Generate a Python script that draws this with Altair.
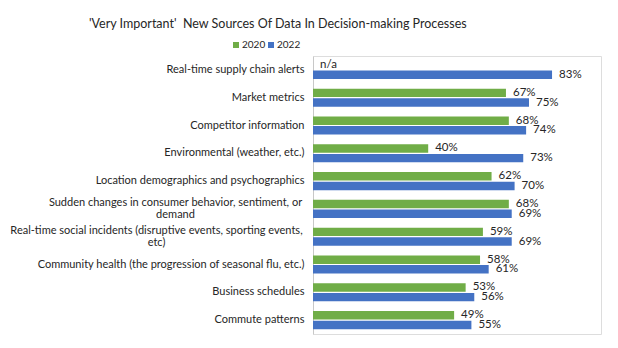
import altair as alt
import pandas as pd

categories = [
    "Real-time supply chain alerts",
    "Market metrics",
    "Competitor information",
    "Environmental (weather, etc.)",
    "Location demographics and psychographics",
    "Sudden changes in consumer behavior, sentiment, or\ndemand",
    "Real-time social incidents (disruptive events, sporting events,\netc)",
    "Community health (the progression of seasonal flu, etc.)",
    "Business schedules",
    "Commute patterns",
]
values_2020 = [None, 67, 68, 40, 62, 68, 59, 58, 53, 49]
values_2022 = [83, 75, 74, 73, 70, 69, 69, 61, 56, 55]
series = ["2020", "2022"]
colors = ["#70AD47", "#4472C4"]

rows = []
for i, c in enumerate(categories):
    for s, vals in zip(series, [values_2020, values_2022]):
        v = vals[i]
        rows.append({
            "cat": c,
            "year": s,
            "value": v,
            "pos": 0 if v is None else v,
            "label": "n/a" if v is None else f"{v}%",
        })
df = pd.DataFrame(rows)

FONT = "Lato"
TXT = "#262626"
MULTI = "indexof(datum.value, '\\n') >= 0"

y = alt.Y("cat:N", sort=categories, title=None,
          scale=alt.Scale(paddingInner=0.35, paddingOuter=0.175),
          axis=alt.Axis(
              labelExpr="split(datum.label, '\\n')",
              labelFont=FONT, labelFontSize=11, labelColor=TXT,
              labelLimit=400, ticks=False, domainColor="#c8c8c8",
              labelAlign={"condition": {"test": MULTI, "value": "center"}, "value": "right"},
              labelOffset={"condition": {"test": MULTI, "value": -6}, "value": 0},
              labelPadding={"condition": [
                  {"test": "indexof(datum.value, 'Sudden') >= 0", "value": 138},
                  {"test": "indexof(datum.value, 'social') >= 0", "value": 157}],
                  "value": 9},
              labelLineHeight=12,
          ))
yoff = alt.YOffset("year:N", sort=series, scale=alt.Scale(paddingInner=0.12))
xscale = alt.Scale(domain=[0, 100])

bars = alt.Chart(df).mark_bar().encode(
    y=y,
    yOffset=yoff,
    x=alt.X("value:Q", scale=xscale, axis=None),
    color=alt.Color("year:N", sort=series,
                    scale=alt.Scale(domain=series, range=colors),
                    legend=alt.Legend(
                        title=None, orient="none", direction="horizontal",
                        legendX=-82, legendY=-16, symbolType="square",
                        symbolSize=36, symbolStrokeWidth=0,
                        labelFont=FONT, labelFontSize=10, labelColor=TXT,
                        columnPadding=0, labelOffset=1,
                    )),
)

labels = alt.Chart(df).mark_text(
    align="left", baseline="middle", dx=7, font=FONT, fontSize=11.5, color=TXT
).encode(
    y=y,
    yOffset=yoff,
    x=alt.X("pos:Q", scale=xscale, axis=None),
    text="label:N",
)

chart = (bars + labels).properties(
    width=288, height=278,
    autosize=alt.AutoSizeParams(type="none"),
    padding={"left": 313, "top": 56, "right": 17, "bottom": 14},
    title=alt.Title(
        "'Very Important'\u00a0 New Sources Of Data In Decision-making Processes",
        anchor="start", frame="group", dx=-224, offset=10, font=FONT, fontSize=12.5,
        fontWeight="normal", color=TXT,
    ),
).configure_view(strokeWidth=0).configure(background="white")

chart.save("out.html", embed_options={"renderer": "svg", "actions": False})
